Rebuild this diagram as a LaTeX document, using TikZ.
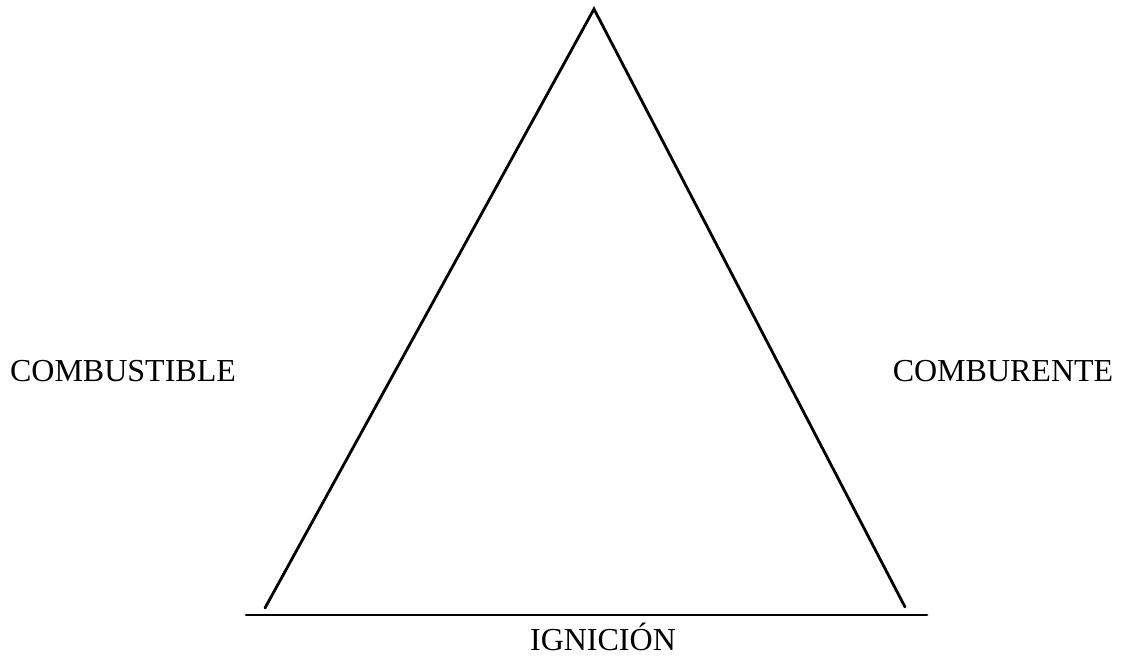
\documentclass[tikz,border=0pt]{standalone}
\usepackage{fontspec}
\setmainfont{Liberation Serif}
\usepackage{tikz}

\begin{document}
\begin{tikzpicture}[x=1pt, y=-1pt,
							lado/.style={line width=2.8pt, line cap=round},
							etiqueta/.style={font=\fontsize{32}{38}\selectfont, inner sep=0pt, anchor=base}
							]
							\useasboundingbox (0,0) rectangle (1121,656);
							% Vértices del triángulo
							\coordinate (V) at (594,9);
							\coordinate (I) at (265,608);
							\coordinate (D) at (905,607);
							\coordinate (BI) at (246,615);
							\coordinate (BD) at (927,615);
							
							% Lados y base
							\draw[lado] (I) -- (V) -- (D);
							\draw[lado] (BI) -- (BD);
							
							% Etiquetas
							\node[etiqueta] (comb) at (123,381) {COMBUSTIBLE};
							\node[etiqueta] (comu) at (1003,381) {COMBURENTE};
							\node[etiqueta] (ign) at (603,650) {IGNICIÓN};
						\end{tikzpicture}
\end{document}
